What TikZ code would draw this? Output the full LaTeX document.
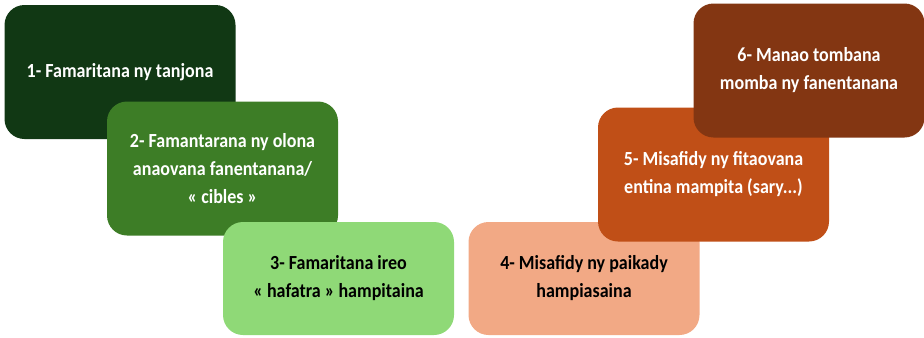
\documentclass[tikz,border=0pt]{standalone}
\usepackage{fontspec}
\setmainfont{Carlito}[FakeStretch=0.9]
\usepackage{xcolor}

\definecolor{verdeoscuro}{HTML}{113814}
\definecolor{verdemedio}{HTML}{3D7D26}
\definecolor{verdeclaro}{HTML}{8FD977}
\definecolor{naranjaclaro}{HTML}{F2A985}
\definecolor{naranja}{HTML}{C04F17}
\definecolor{marron}{HTML}{833612}

\tikzset{
    paso/.style={rectangle, rounded corners=10pt, inner sep=0pt,
        minimum width=115.5pt, align=center,
        font=\fontsize{10}{14}\selectfont\bfseries},
    pasoalto/.style={paso, minimum height=67pt},
    pasobajo/.style={paso, minimum height=56.5pt},
}

\begin{document}
\begin{tikzpicture}[x=0.5pt,y=-0.5pt]

    % marco
    \useasboundingbox (0,0) rectangle (924,337);

    % pasos verdes
    \node[pasoalto, fill=verdeoscuro, text=white] (p1) at (120,72) {1- Famaritana ny tanjona};
    \node[pasoalto, fill=verdemedio, text=white] (p2) at (222.5,168.5) {2- Famantarana ny olona\\anaovana fanentanana/\\« cibles »};
    \node[pasobajo, fill=verdeclaro, text=black] (p3) at (338.5,278.5) {3- Famaritana ireo\\« hafatra » hampitaina};

    % pasos naranjas
    \node[pasobajo, fill=naranjaclaro, text=black] (p4) at (584,278.5) {4- Misafidy ny paikady\\hampiasaina};
    \node[pasoalto, fill=naranja, text=white] (p5) at (713.5,174.5) {5- Misafidy ny fitaovana\\entina mampita (sary...)};
    \node[pasoalto, fill=marron, text=white] (p6) at (809,70.5) {6- Manao tombana\\momba ny fanentanana};

\end{tikzpicture}
\end{document}
